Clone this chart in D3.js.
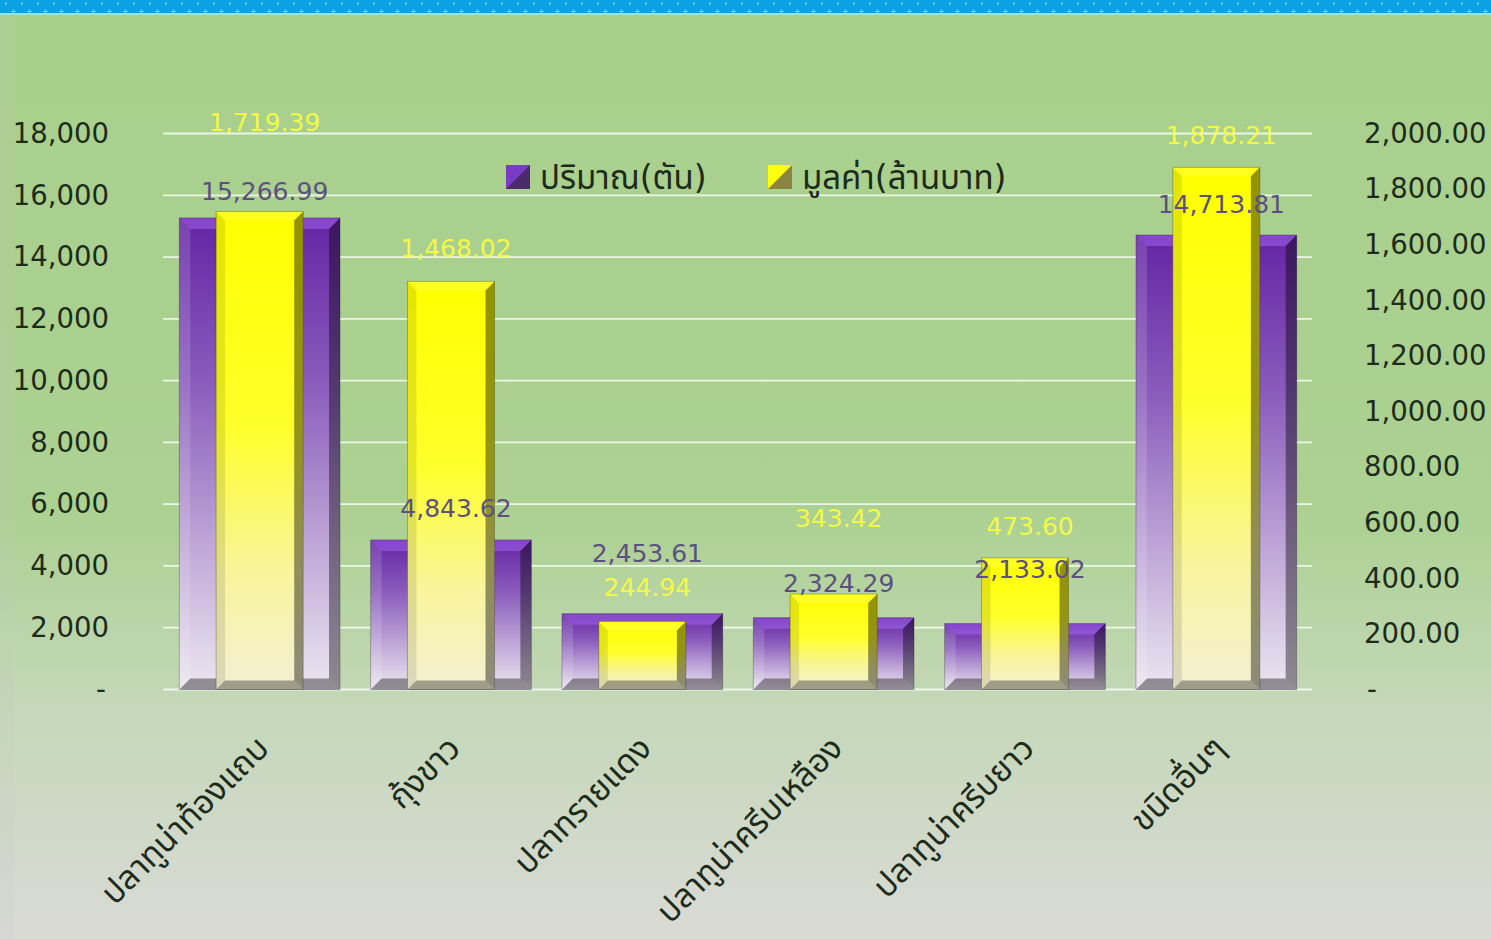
<!DOCTYPE html>
<html><head><meta charset="utf-8">
<script src="https://cdn.jsdelivr.net/npm/d3@7"></script>
<style>html,body{margin:0;padding:0;overflow:hidden;background:#fff}svg{display:block}</style>
</head><body>
<svg id="chart" width="1491" height="939"></svg>
<script>
// ---- data ----
const categories = ["ปลาทูน่าท้องแถบ","กุ้งขาว","ปลาทรายแดง","ปลาทูน่าครีบเหลือง","ปลาทูน่าครีบยาว","ขนิดอื่นๆ"];
const quantity = [15266.99, 4843.62, 2453.61, 2324.29, 2133.02, 14713.81];   // ปริมาณ(ตัน)
const valueMB  = [1719.39, 1468.02, 244.94, 343.42, 473.60, 1878.21];         // มูลค่า(ล้านบาท)
const seriesNames = ["ปริมาณ(ตัน)", "มูลค่า(ล้านบาท)"];
const leftTicks  = [0,2000,4000,6000,8000,10000,12000,14000,16000,18000];
const rightTicks = [0,200,400,600,800,1000,1200,1400,1600,1800,2000];
// label nudges (layout only, px above bar top)
const qtyLabelGap = [27, 32, 60, 34, 54, 31];
const valLabelGap = [89, 33, 34, 76, 32, 32];

const W = 1491, H = 939;
const svg = d3.select("#chart");
const defs = svg.append("defs");
const FONT = "Tahoma, Verdana, 'DejaVu Sans', 'Noto Sans Thai', 'Noto Sans', sans-serif";

// background gradient
const bg = defs.append("linearGradient").attr("id","bg").attr("x1",0).attr("y1",0).attr("x2",0).attr("y2",1);
[[0,"#a8d08c"],[0.55,"#acd192"],[0.75,"#c4d8b8"],[1,"#dadad6"]].forEach(s=>bg.append("stop").attr("offset",s[0]).attr("stop-color",s[1]));
svg.append("rect").attr("width",W).attr("height",H).attr("fill","url(#bg)");
svg.append("rect").attr("x",0).attr("y",0).attr("width",14).attr("height",H).attr("fill","#c8c8c8").attr("opacity",0.12);

// top banner
const pat = defs.append("pattern").attr("id","dots").attr("width",16).attr("height",14).attr("patternUnits","userSpaceOnUse");
pat.append("rect").attr("width",16).attr("height",14).attr("fill","#0aa2e2");
pat.append("circle").attr("cx",6).attr("cy",3.5).attr("r",1).attr("fill","#9fe4ff");
pat.append("rect").attr("x",13).attr("y",9).attr("width",1).attr("height",4).attr("fill","#6fd0f4");
pat.append("rect").attr("x",11).attr("y",11).attr("width",5).attr("height",1).attr("fill","#6fd0f4");
svg.append("rect").attr("x",0).attr("y",0).attr("width",W).attr("height",14).attr("fill","url(#dots)");
svg.append("rect").attr("x",0).attr("y",13).attr("width",W).attr("height",2).attr("fill","#8ee6f2");

// scales
const x = d3.scaleBand().domain(categories).range([164, 1312]).padding(0);
const yL = d3.scaleLinear().domain([0,18000]).range([689.5,133.5]);
const yR = d3.scaleLinear().domain([0,2000]).range([689.5,133.5]);

// gridlines
svg.append("g").selectAll("line").data(leftTicks).join("line")
  .attr("x1",163).attr("x2",1312).attr("y1",d=>yL(d)).attr("y2",d=>yL(d))
  .attr("stroke","#f4fbef").attr("stroke-width",1.8).attr("opacity",0.9);

// gradients for bars
function vgrad(id, stops){
  const g = defs.append("linearGradient").attr("id",id).attr("x1",0).attr("y1",0).attr("x2",0).attr("y2",1);
  stops.forEach(s=>g.append("stop").attr("offset",s[0]).attr("stop-color",s[1]));
}
vgrad("gP", [[0,"#6424a4"],[0.35,"#8a5cbc"],[0.7,"#c0a8d8"],[1,"#ece6f0"]]);
vgrad("gY", [[0,"#ffff00"],[0.45,"#ffff2a"],[0.75,"#f8f49a"],[1,"#f4f0d4"]]);

function bevelBar(g, x0, y0, w, h, fill, b, tone){
  const x1 = x0 + w, y1 = y0 + h;
  b = Math.min(b, w/3, h/3);
  g.append("rect").attr("x",x0).attr("y",y0).attr("width",w).attr("height",h).attr("fill",fill);
  const poly = (pts, col, op) => g.append("polygon").attr("points",pts.map(p=>p.join(",")).join(" ")).attr("fill",col).attr("opacity",op);
  poly([[x0,y0],[x1,y0],[x1-b,y0+b],[x0+b,y0+b]], tone.top, tone.topO);
  poly([[x0,y0],[x0+b,y0+b],[x0+b,y1-b],[x0,y1]], tone.left, tone.leftO);
  poly([[x1,y0],[x1,y1],[x1-b,y1-b],[x1-b,y0+b]], "#000", tone.rightO);
  poly([[x0,y1],[x0+b,y1-b],[x1-b,y1-b],[x1,y1]], "#000", tone.botO);
  g.append("rect").attr("x",x0).attr("y",y0).attr("width",w).attr("height",h).attr("fill","none").attr("stroke","#000").attr("stroke-opacity",0.25).attr("stroke-width",1);
}
const toneP = {top:"#b070ff", topO:0.45, left:"#ffffff", leftO:0.14, rightO:0.40, botO:0.38};
const toneY = {top:"#ffffff", topO:0.12, left:"#000", leftO:0.10, rightO:0.42, botO:0.35};

const bars = svg.append("g");
categories.forEach((c,i)=>{
  const cx = x(c) + x.bandwidth()/2;
  const wP = x.bandwidth()*0.84, wY = x.bandwidth()*0.455;
  const tP = yL(quantity[i]), tY = yR(valueMB[i]);
  bevelBar(bars, cx - wP/2, tP, wP, yL(0)-tP, "url(#gP)", 11, toneP);
  bevelBar(bars, cx - wY/2, tY, wY, yR(0)-tY, "url(#gY)", 9, toneY);
});

// data labels
const lbl = svg.append("g").attr("font-family",FONT).attr("font-size",25).attr("text-anchor","middle");
categories.forEach((c,i)=>{
  const cx = x(c) + x.bandwidth()/2 + 5;
  lbl.append("text").attr("x",cx).attr("y",yL(quantity[i]) - qtyLabelGap[i]).attr("dy","0.35em")
    .attr("fill","#5c5080").text(d3.format(",.2f")(quantity[i]));
  lbl.append("text").attr("x",cx).attr("y",yR(valueMB[i]) - valLabelGap[i]).attr("dy","0.35em")
    .attr("fill","#ffff3a").attr("fill-opacity",0.9).text(d3.format(",.2f")(valueMB[i]));
});

// axes
const fmtL = d => d === 0 ? "-" : d3.format(",")(d);
const fmtR = d => d === 0 ? "-" : d3.format(",.2f")(d);
const axL = svg.append("g").attr("transform","translate(109,0)")
  .call(d3.axisLeft(yL).tickValues(leftTicks).tickFormat(fmtL).tickSize(0).tickPadding(0));
axL.select(".domain").remove();
axL.selectAll("text").attr("font-family",FONT).attr("font-size",27.5).attr("fill","#1d2b1b")
  .attr("dx", d=> d===0 ? -3 : 0);
const axR = svg.append("g").attr("transform","translate(1364,0)")
  .call(d3.axisRight(yR).tickValues(rightTicks).tickFormat(fmtR).tickSize(0).tickPadding(0));
axR.select(".domain").remove();
axR.selectAll("text").attr("font-family",FONT).attr("font-size",27.5).attr("fill","#1d2b1b")
  .attr("dx", d=> d===0 ? 3 : 0);

// category labels
const xl = svg.append("g").attr("font-family",FONT).attr("font-size",33).attr("fill","#1d2b1b");
categories.forEach((c,i)=>{
  const cx = x(c) + x.bandwidth()/2 + 3;
  xl.append("text").attr("text-anchor","end")
    .attr("transform",`translate(${cx},${742}) rotate(-45)`)
    .attr("dy","0.35em").text(c);
});

// legend
const lg = svg.append("g").attr("font-family",FONT).attr("font-size",33).attr("fill","#1d2b1b");
const legItems = [{name:seriesNames[0], x:506, fill:"url(#gP)", a:"#7a3cc4", b:"#4a2a6a"},
                  {name:seriesNames[1], x:768, fill:"url(#gY)", a:"#ffff10", b:"#8a8440"}];
legItems.forEach(it=>{
  const s = 24, y0 = 165;
  lg.append("rect").attr("x",it.x).attr("y",y0).attr("width",s).attr("height",s).attr("fill",it.b);
  lg.append("polygon").attr("points",`${it.x},${y0} ${it.x+s},${y0} ${it.x},${y0+s}`).attr("fill",it.a);
  lg.append("text").attr("x",it.x+34).attr("y",y0+s/2).attr("dy","0.35em").text(it.name);
});
</script>
</body></html>
